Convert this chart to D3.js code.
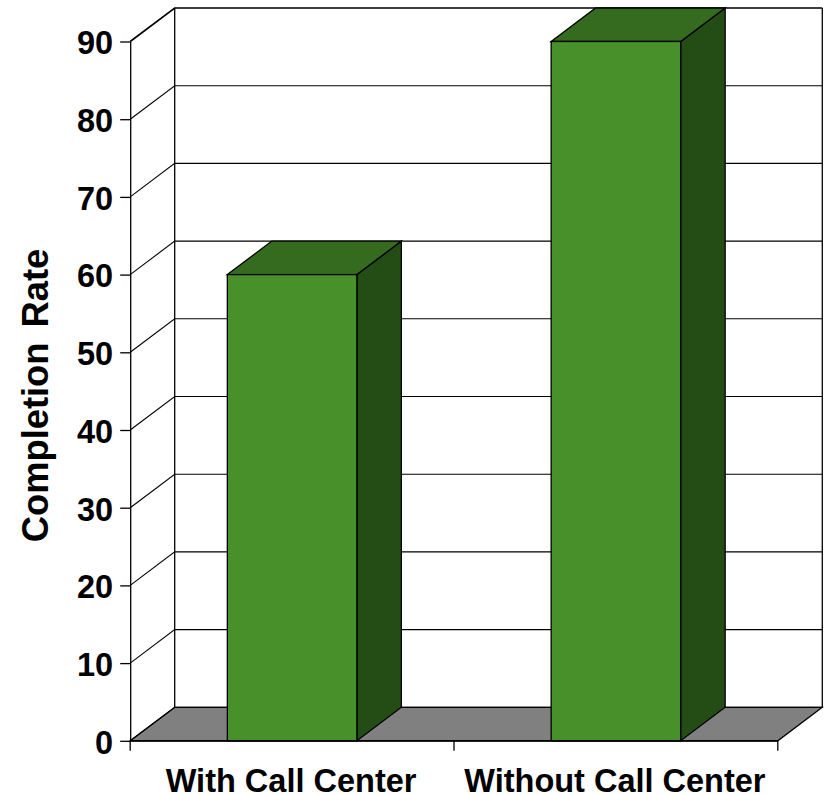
<!DOCTYPE html>
<html>
<head>
<meta charset="utf-8">
<script src="https://cdn.jsdelivr.net/npm/d3@7"></script>
<style>
html, body { margin: 0; padding: 0; background: #fff; }
svg { display: block; }
text { font-family: "Liberation Sans", Arial, sans-serif; font-weight: bold; fill: #000; }
</style>
</head>
<body>
<div id="chart"></div>
<script>
// Chart content
const categories = ["With Call Center", "Without Call Center"];
const completionRates = [60, 90];
const yTicks = [0, 10, 20, 30, 40, 50, 60, 70, 80, 90];
const yTitle = "Completion Rate";

const width = 824, height = 795;
const depth = { x: 44.5, y: -33.5 };   // oblique offset from the front plane to the back wall

const x = d3.scaleBand().domain(categories).range([130.2, 777.8]).paddingInner(0.6).paddingOuter(0.3);
const y = d3.scaleLinear().domain([0, 90]).range([740.8, 41.5]);

const svg = d3.select("#chart").append("svg").attr("width", width).attr("height", height);
const poly = pts => pts.map(p => p.join(",")).join(" ");
const x0 = x.range()[0], x1 = x.range()[1], y0 = y(0);

// Floor
svg.append("polygon")
  .attr("points", poly([[x0, y0], [x0 + depth.x, y0 + depth.y], [x1 + depth.x, y0 + depth.y], [x1, y0]]))
  .attr("fill", "#808080").attr("stroke", "#000").attr("stroke-width", 1.3);

// Back wall gridlines and their returns along the left side wall
const grid = svg.append("g").attr("fill", "none").attr("stroke", "#000").attr("stroke-width", 1.1);
yTicks.forEach(t => {
  grid.append("polyline")
    .attr("stroke-width", t === 90 ? 1.6 : 1.1)
    .attr("points", poly([[x0, y(t)], [x0 + depth.x, y(t) + depth.y], [x1 + depth.x, y(t) + depth.y]]));
});
grid.append("line").attr("x1", x0 + depth.x).attr("x2", x0 + depth.x)
  .attr("y1", y(90) + depth.y).attr("y2", y0 + depth.y).attr("stroke-width", 1.3);
grid.append("line").attr("x1", x1 + depth.x).attr("x2", x1 + depth.x)
  .attr("y1", y(90) + depth.y).attr("y2", y0 + depth.y).attr("stroke-width", 1.3);

// Bars: right side, top, then front face
const bars = svg.append("g").selectAll("g")
  .data(categories.map((c, i) => ({ c, v: completionRates[i] })))
  .join("g").attr("stroke", "#000").attr("stroke-width", 1.3).attr("stroke-linejoin", "miter");

bars.append("polygon").attr("fill", "#244d16").attr("points", d => {
  const r = x(d.c) + x.bandwidth();
  return poly([[r, y(d.v)], [r + depth.x, y(d.v) + depth.y], [r + depth.x, y0 + depth.y], [r, y0]]);
});
bars.append("polygon").attr("fill", "#356b1f").attr("points", d => {
  const l = x(d.c), r = l + x.bandwidth();
  return poly([[l, y(d.v)], [l + depth.x, y(d.v) + depth.y], [r + depth.x, y(d.v) + depth.y], [r, y(d.v)]]);
});
bars.append("rect").attr("fill", "#48912a")
  .attr("x", d => x(d.c)).attr("y", d => y(d.v))
  .attr("width", x.bandwidth()).attr("height", d => y0 - y(d.v));

// Axes
const yAxis = svg.append("g").attr("transform", `translate(${x0},0)`)
  .call(d3.axisLeft(y).tickValues(yTicks).tickSize(10).tickPadding(7).tickSizeOuter(0));
const xAxis = svg.append("g").attr("transform", `translate(0,${y0})`);
xAxis.append("line").attr("x1", x0).attr("x2", x1).attr("stroke", "#000").attr("stroke-width", 1.8);
xAxis.selectAll("line.tick").data([x0, (x0 + x1) / 2, x1]).join("line").attr("class", "tick")
  .attr("x1", d => d).attr("x2", d => d).attr("y2", 10).attr("stroke", "#000").attr("stroke-width", 1.3);
xAxis.selectAll("text").data(categories).join("text")
  .attr("x", d => x(d) + x.bandwidth() / 2 - 1).attr("y", 51.5)
  .attr("text-anchor", "middle").attr("font-size", 32.5).text(d => d);

yAxis.selectAll("path,line").attr("stroke", "#000").attr("stroke-width", 1.3);
yAxis.selectAll("text").attr("font-size", 32.5).attr("font-family", null).attr("dy", "0.38em");

// Value axis title
svg.append("text")
  .attr("transform", "translate(48.3,395.5) rotate(-90)")
  .attr("text-anchor", "middle").attr("font-size", 36.3).attr("word-spacing", 5).text(yTitle);
</script>
</body>
</html>
